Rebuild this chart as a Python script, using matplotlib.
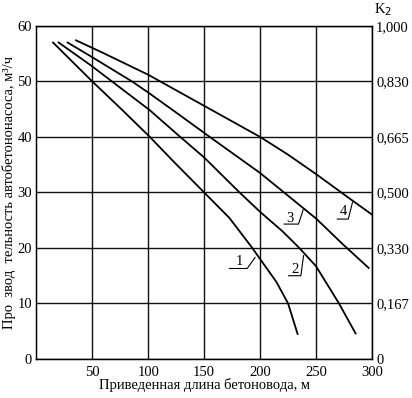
import matplotlib.pyplot as plt

plt.rcParams['font.family'] = ['Liberation Serif', 'DejaVu Serif']

# curve points (length m, output m3/h)
x1 = [15, 50, 75, 101.5, 122, 150, 172.6, 193, 200, 214.5, 225, 233.5]
y1 = [57, 50, 45.2, 40, 35.7, 30, 25.4, 20, 18, 13.9, 10, 4.5]

x2 = [20, 48, 67.6, 101.5, 127.5, 150, 181.6, 200, 220, 235, 250, 270.5, 285.3]
y2 = [57, 53, 50, 44.8, 40.2, 36.3, 30, 26.5, 23, 20, 16.7, 10, 4.6]

x3 = [28, 48, 85.5, 100, 120.8, 155, 200, 250, 273.7, 297]
y3 = [57, 54.6, 50, 48, 45, 40, 33.5, 25.3, 20.7, 16.4]

x4 = [35.5, 60, 100, 150, 200, 225, 250, 280, 300]
y4 = [57.4, 55.1, 51.2, 45.6, 40, 36.8, 33.3, 28.9, 26]

curves = [(x1, y1), (x2, y2), (x3, y3), (x4, y4)]
curve_names = ['1', '2', '3', '4']
# label leaders: text pos, underline start, underline end, tip on curve
label_text = [(181.6, 17.6), (231.5, 16.2), (226.5, 25.3), (274, 26.5)]
label_line_x = [[172.6, 188.5, 195.5], [225.4, 236.4, 238.8], [221.5, 234.3, 238.5], [269, 278.8, 282.5]]
label_line_y = [[16.3, 16.3, 18.3], [15.0, 15.0, 18.6], [24.3, 24.3, 26.9], [25.2, 25.2, 28.2]]

x_ticks = [50, 100, 150, 200, 250, 300]
y_ticks = [0, 10, 20, 30, 40, 50, 60]
k2_labels = ['0', '0,167', '0,330', '0,500', '0,665', '0,830', '1,000']

fig = plt.figure(figsize=(4.12, 3.98), dpi=100)
ax = fig.add_axes([0.088, 0.098, 0.815, 0.837])

for xs, ys in curves:
    ax.plot(xs, ys, color='black', lw=1.3)

for name, (tx, ty), lx, ly in zip(curve_names, label_text, label_line_x, label_line_y):
    ax.text(tx, ty, name, fontsize=10.5, ha='center', va='center')
    ax.plot(lx, ly, color='black', lw=0.8)

ax.set_xlim(0, 300)
ax.set_ylim(0, 60)
ax.set_xticks(x_ticks)
ax.set_yticks(y_ticks)
ax.grid(True, color='#111111', lw=1.0)
ax.tick_params(axis='x', length=0, labelsize=10.5, pad=5)
ax.tick_params(axis='y', length=0, labelsize=10.5, pad=3)
for s in ax.spines.values():
    s.set_linewidth(1.0)

ax.set_xlabel('Приведенная длина бетоновода, м', fontsize=10.5, labelpad=-1)
ax.set_ylabel('Про  звод  тельность автобетононасоса, м³/ч', fontsize=10.5, labelpad=1)

ax2 = ax.twinx()
ax2.set_ylim(0, 60)
ax2.set_yticks(y_ticks)
ax2.set_yticklabels(k2_labels)
ax2.tick_params(length=0, labelsize=10.5, pad=3)
ax2.text(1.033, 1.048, 'K$_2$', transform=ax.transAxes, fontsize=10.5,
         ha='center', va='center')

fig.savefig('out.png', dpi=100)
